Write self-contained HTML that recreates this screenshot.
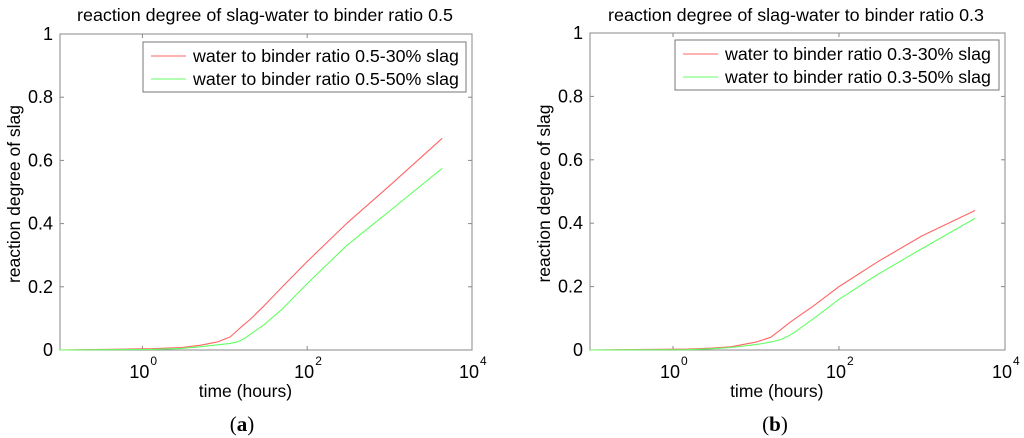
<!DOCTYPE html>
<html><head><meta charset="utf-8"><style>
html,body{margin:0;padding:0;background:#fff;}
svg{display:block;font-family:"Liberation Sans",sans-serif;}
</style></head><body>
<svg id="s" width="1024" height="438" viewBox="0 0 1024 438"></svg>
<script>
const xTicks=[0,2,4];
const yTicks=[0,0.2,0.4,0.6,0.8,1];
const yTickLabels=["0","0.2","0.4","0.6","0.8","1"];
const aTimes=[0.1,1.3,3,5,8,11.6,14,17,20,30,50,100,300,1000,4350];
const aRed=[0,0.004,0.008,0.015,0.025,0.041,0.06,0.08,0.095,0.14,0.2,0.28,0.40,0.52,0.67];
const aGreen=[0,0.002,0.005,0.01,0.016,0.021,0.025,0.035,0.048,0.08,0.13,0.21,0.33,0.44,0.575];
const bTimes=[0.1,1.5,3,5,10,15,20,25,30,50,100,300,1000,4350];
const bRed=[0,0.003,0.006,0.01,0.025,0.04,0.065,0.085,0.1,0.14,0.2,0.28,0.36,0.44];
const bGreen=[0,0.001,0.004,0.008,0.017,0.025,0.033,0.045,0.058,0.1,0.16,0.24,0.32,0.415];
const NS="http://www.w3.org/2000/svg";
const svg=document.getElementById('s');
function mk(tag,attrs,parent,text){const e=document.createElementNS(NS,tag);for(const k in attrs)e.setAttribute(k,attrs[k]);if(text!==undefined)e.textContent=text;(parent||svg).appendChild(e);return e;}
function panel(o){
  const g=mk('g',{});
  
  
  const X=v=>o.x0+(Math.log10(v)+1)/5*(o.x1-o.x0);
  const Y=v=>o.y1-v*(o.y1-o.y0);
  const t=mk('text',{x:o.tx,y:21,'text-anchor':'middle','font-size':17.9,fill:'#000'},g,o.title);
  
  const box=mk('rect',{x:o.x0,y:o.y0,width:o.x1-o.x0,height:o.y1-o.y0,fill:'none',stroke:'#888','stroke-width':1},g);
  
  yTicks.forEach((v,i)=>{const y=Y(v);
    mk('line',{x1:o.x0,x2:o.x0+4,y1:y,y2:y,stroke:'#888'},g);
    mk('line',{x1:o.x1,x2:o.x1-4,y1:y,y2:y,stroke:'#888'},g);
    const l=mk('text',{x:o.x0-7,y:y+6,'text-anchor':'end','font-size':18},g,yTickLabels[i]);
    });
  xTicks.forEach(p=>{const x=X(Math.pow(10,p));
    mk('line',{x1:x,x2:x,y1:o.y1,y2:o.y1-4,stroke:'#888'},g);
    mk('line',{x1:x,x2:x,y1:o.y0,y2:o.y0+4,stroke:'#888'},g);
    const l=mk('text',{x:x-3,y:378,'text-anchor':'middle','font-size':18},g,'10');
    
    mk('text',{x:x+8,y:365,'font-size':12},g,String(p));});
  const xl=mk('text',{x:o.x0+(o.x1-o.x0)*0.45,y:397,'text-anchor':'middle','font-size':17.5},g,'time (hours)');
  
  const yl=mk('text',{x:0,y:0,'text-anchor':'middle','font-size':17.5,transform:`translate(${o.x0-40},${(o.y0+o.y1)/2+2}) rotate(-90)`},g,'reaction degree of slag');
  
  [[o.red,'#ff6464','series-30-slag'],[o.green,'#64ff64','series-50-slag']].forEach(([d,c,n])=>{
    const p=mk('polyline',{points:o.times.map((t,i)=>X(t).toFixed(1)+','+Y(d[i]).toFixed(1)).join(' '),fill:'none',stroke:c,'stroke-width':1.1,'stroke-linejoin':'round'},g);
    });
  const lg=mk('g',{},g);
  
  mk('rect',{x:o.lx,y:o.ly,width:o.lw,height:50,fill:'#fff',stroke:'#777'},lg);
  [['#ff6464',o.l1],['#64ff64',o.l2]].forEach(([c,txt],i)=>{const yy=o.ly+14+i*23;
    mk('line',{x1:o.lx+8,x2:o.lx+43,y1:yy,y2:yy,stroke:c},lg);
    const e=mk('text',{x:o.lx+50,y:yy+6,'font-size':17.8},lg,txt);
    });
  const c=mk('text',{x:o.cap,y:431,'text-anchor':'middle','font-size':21,'font-family':'Liberation Serif,serif'},g);
  
  c.innerHTML='(<tspan font-weight="bold">'+o.letter+'</tspan>)';
}
panel({name:'panel-a',x0:60,x1:472,y0:34,y1:350,tx:265,title:'reaction degree of slag-water to binder ratio 0.5',times:aTimes,red:aRed,green:aGreen,lx:143,ly:42,lw:323,l1:'water to binder ratio 0.5-30% slag',l2:'water to binder ratio 0.5-50% slag',cap:242,letter:'a'});
panel({name:'panel-b',x0:590,x1:1005,y0:33,y1:350,tx:796,title:'reaction degree of slag-water to binder ratio 0.3',times:bTimes,red:bRed,green:bGreen,lx:675,ly:40,lw:324,l1:'water to binder ratio 0.3-30% slag',l2:'water to binder ratio 0.3-50% slag',cap:775,letter:'b'});
</script>
</body></html>
